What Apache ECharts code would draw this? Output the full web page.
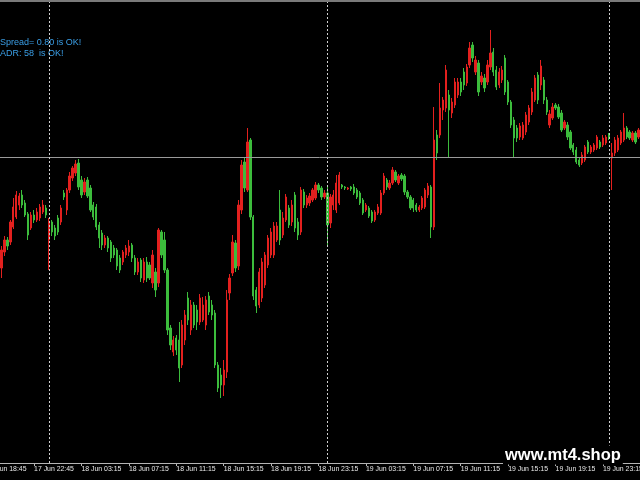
<!DOCTYPE html>
<html>
<head>
<meta charset="utf-8">
<script src="https://cdn.jsdelivr.net/npm/echarts@6/dist/echarts.min.js"></script>
<style>
html,body{margin:0;padding:0;background:#000;}
#chart{width:640px;height:480px;}
</style>
</head>
<body>
<div id="chart"></div>
<script>
// Price values in points (M15 candles)
const opens = [
195,211,223,221,236,246,258,268,260,249,
235,248,243,245,251,255,223,241,235,245,
241,270,253,273,285,290,300,283,271,283,
275,258,256,238,230,218,225,221,215,213,
205,201,208,211,218,205,191,203,183,201,
198,180,191,180,231,223,193,135,111,125,
123,98,123,165,133,158,153,141,143,138,
167,158,150,98,88,78,91,170,190,220,
197,253,301,273,323,246,173,158,165,178,
198,208,208,223,253,228,243,255,241,268,
241,231,271,258,260,263,265,278,275,266,
270,240,258,253,260,278,276,274,276,276,
273,270,263,253,255,251,243,250,250,270,
283,275,280,291,280,288,287,271,266,263,
258,253,255,256,268,276,236,328,328,353,
355,368,350,358,368,381,391,380,398,418,
391,400,381,385,381,396,411,393,378,383,
405,381,361,343,335,326,325,331,341,351,
363,388,378,383,363,338,345,358,356,350,
335,338,331,318,313,303,300,303,321,311,
313,315,321,318,320,328,305,310,313,320,
323,335,331,323,330,326];
const closes = [
213,223,217,241,256,268,267,258,248,228,
248,243,251,256,258,248,241,231,227,231,
255,266,273,287,295,299,276,268,281,267,
253,246,236,225,218,225,215,205,208,197,
193,211,215,217,205,191,201,185,201,185,
185,208,173,233,208,193,133,118,123,113,
95,138,148,143,158,138,141,165,158,163,
151,148,98,75,78,93,163,185,221,195,
258,298,275,321,246,167,157,191,201,208,
225,231,237,237,223,245,266,238,258,235,
228,273,258,265,267,273,278,273,266,270,
238,266,268,280,288,276,275,275,274,270,
266,260,250,258,247,242,251,256,270,287,
276,280,293,283,287,284,271,266,255,255,
253,256,265,273,277,236,323,310,355,363,
393,353,361,381,381,371,378,396,415,405,
403,371,387,375,398,410,391,376,391,393,
371,361,338,325,325,337,338,348,355,371,
385,363,397,363,351,349,356,355,346,333,
341,326,315,311,301,298,308,316,311,316,
318,326,316,325,326,325,310,323,325,331,
335,326,325,330,321,333];
const lows = [
185,207,213,218,234,244,253,255,246,223,
233,240,241,242,249,245,193,227,223,228,
238,263,248,270,282,287,273,265,268,265,
251,243,233,215,213,215,211,201,205,193,
190,198,205,207,201,188,188,181,180,181,
183,175,166,176,205,190,128,113,107,108,
81,95,118,138,128,135,133,138,141,133,
148,143,95,71,65,67,85,163,187,191,
193,249,271,271,243,163,150,155,161,175,
195,205,205,221,218,225,241,235,237,231,
223,228,255,255,257,261,263,270,263,264,
218,235,253,250,258,274,273,273,272,268,
264,258,248,251,245,240,241,248,248,268,
273,273,278,281,278,282,268,264,253,251,
251,251,253,254,265,225,233,303,325,343,
351,305,345,355,365,367,373,377,395,401,
388,367,378,371,378,393,387,373,375,380,
368,358,335,306,321,323,323,328,338,348,
361,359,373,359,348,335,343,353,344,331,
333,323,313,308,299,296,298,301,309,309,
311,313,314,316,318,323,273,307,311,318,
321,324,323,321,319,324];
const highs = [
217,227,226,243,265,272,270,273,263,251,
251,253,255,259,263,258,245,243,238,248,
258,273,275,291,297,303,304,287,285,286,
278,261,259,241,233,228,227,223,218,215,
208,213,218,223,220,208,205,205,205,206,
201,213,195,235,233,231,195,138,127,128,
141,143,153,171,163,161,158,169,166,167,
171,163,153,101,95,103,173,189,228,223,
263,303,305,335,325,248,176,195,205,211,
228,235,241,241,273,251,269,258,263,271,
245,276,274,268,270,275,281,280,277,273,
277,269,273,288,291,279,277,276,277,279,
275,272,265,260,257,253,253,259,273,290,
285,283,296,293,289,290,289,273,268,265,
260,258,267,275,280,278,356,333,380,366,
398,373,365,385,385,385,395,399,421,421,
407,403,391,389,403,433,415,397,395,397,
408,383,363,346,338,340,341,351,358,375,
388,391,403,386,366,353,360,360,359,353,
343,341,333,320,316,306,311,318,323,318,
320,328,323,328,328,330,320,326,328,333,
350,337,333,332,332,335];

const tickLabels = ['17 Jun 18:45','17 Jun 22:45','18 Jun 03:15','18 Jun 07:15','18 Jun 11:15',
  '18 Jun 15:15','18 Jun 19:15','18 Jun 23:15','19 Jun 03:15','19 Jun 07:15','19 Jun 11:15',
  '19 Jun 15:15','19 Jun 19:15','19 Jun 23:15'];
const barsPerLabel = 16;       // 4 hours of M15 bars
const leadBars = 5;            // bars between the first (off-screen) label and the first visible candle
const dayBreaks = [16, 110, 205]; // candle index of each new day
const priceLine = 306;
const infoLines = ['Spread= 0.80 is OK!', 'ADR: 58  is OK!'];
const watermark = 'www.mt4.shop';

const n = opens.length + leadBars;
const categories = [];
for (let i = 0; i < n; i++) categories.push('b' + i);
const candleData = [];
for (let i = 0; i < leadBars; i++) candleData.push(['-', '-', '-', '-']);
for (let i = 0; i < opens.length; i++) candleData.push([opens[i], closes[i], lows[i], highs[i]]);

const W = 640, visibleBars = opens.length;
const barW = W / visibleBars;

const chart = echarts.init(document.getElementById('chart'), null, {renderer: 'canvas'});
chart.setOption({
  animation: false,
  backgroundColor: '#000000',
  grid: {left: -leadBars * barW, width: n * barW, top: 2, bottom: 17,
    containLabel: false, outerBoundsMode: 'none'},
  xAxis: {
    type: 'category',
    data: categories,
    boundaryGap: true,
    axisLine: {show: true, lineStyle: {color: '#b4b4b4', width: 1}},
    axisTick: {show: true, interval: barsPerLabel - 1, alignWithLabel: true, length: 3,
      lineStyle: {color: '#b4b4b4'}},
    axisLabel: {
      interval: barsPerLabel - 1,
      align: 'left',
      margin: 3,
      color: '#e8e8e8',
      fontSize: 6.9,
      fontFamily: 'Liberation Sans',
      hideOverlap: false,
      formatter: function (v, idx) { return tickLabels[Math.round(idx / barsPerLabel)] || ''; }
    },
    splitLine: {show: false}
  },
  yAxis: {
    type: 'value', min: 0, max: 461, show: false, splitLine: {show: false}
  },
  series: [{
    type: 'candlestick',
    data: candleData,
    barWidth: 1.8,
    clip: true,
    itemStyle: {
      color: '#e3201e', color0: '#3cbc3c',
      borderColor: '#e3201e', borderColor0: '#3cbc3c', borderWidth: 1
    },
    markLine: {
      silent: true,
      symbol: ['none', 'none'],
      label: {show: false},
      data: [
        {yAxis: priceLine, lineStyle: {color: '#9a9a9a', type: 'solid', width: 1}},
        ...dayBreaks.map(d => ({xAxis: d + leadBars,
          lineStyle: {color: '#d0d0d0', type: [2, 2], width: 1}}))
      ]
    }
  }],
  graphic: [
    {type: 'rect', left: 0, top: 0, shape: {width: 640, height: 2}, style: {fill: '#7a7a7a'}, silent: true},
    {type: 'text', x: 0, y: 43, style: {text: infoLines[0], fill: '#3a9ee6', font: '9px "Liberation Sans"', verticalAlign: 'middle'}},
    {type: 'text', x: 0, y: 54, style: {text: infoLines[1], fill: '#3a9ee6', font: '9px "Liberation Sans"', verticalAlign: 'middle'}},
    {type: 'text', x: 503, y: 455, z: 100, style: {text: watermark, fill: '#ffffff',
      font: 'bold 16.5px "Liberation Sans"', verticalAlign: 'middle',
      backgroundColor: '#000000', padding: [1, 2, 1, 2]}}
  ]
});
</script>
</body>
</html>
